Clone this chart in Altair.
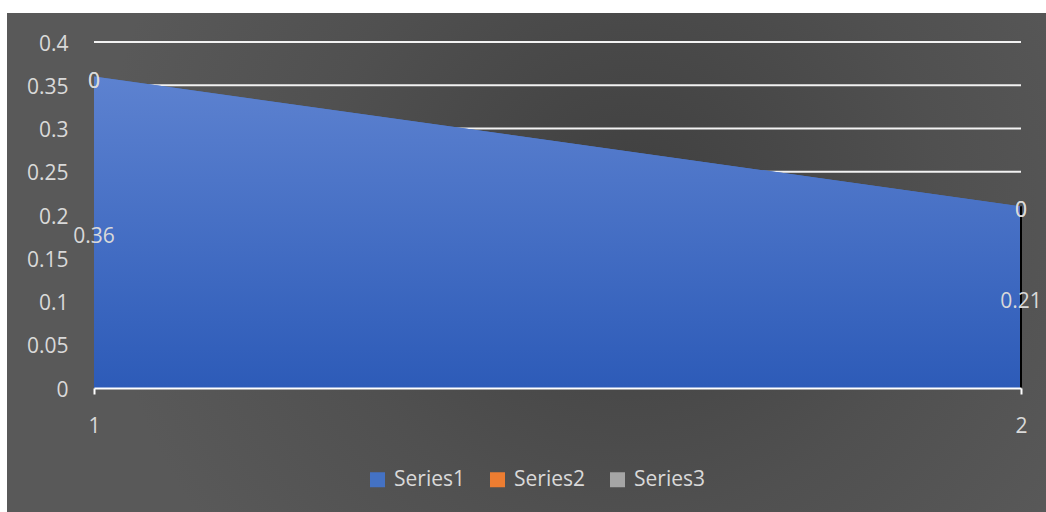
import altair as alt
import pandas as pd

# ---- data ----
x_values = [1, 2]
series_names = ["Series1", "Series2", "Series3"]
series1 = [0.36, 0.21]
series2 = [0, 0]
series3 = [0, 0]
series_colors = ["#4472c4", "#ed7d31", "#a5a5a5"]
y_ticks = [0, 0.05, 0.1, 0.15, 0.2, 0.25, 0.3, 0.35, 0.4]
x_ticks = [1, 2]

rows = []
for name, vals in zip(series_names, [series1, series2, series3]):
    for xv, v in zip(x_values, vals):
        rows.append({"x": xv, "series": name, "value": v, "order": series_names.index(name)})
df = pd.DataFrame(rows)
grid_df = pd.DataFrame({"v": [t for t in y_ticks if t > 0]})

W, H = 927, 346
FONT = "Open Sans"
TXT = "#d9d9d9"

xscale = alt.Scale(domain=[1, 2], nice=False, zero=False)
yscale = alt.Scale(domain=[0, 0.4], nice=False)

# gray panel with radial shading
panel = alt.Chart(pd.DataFrame({"a": [0]})).mark_rect(
    fill=alt.RadialGradient(
        gradient="radial",
        stops=[alt.GradientStop(color="#3f3f3f", offset=0),
               alt.GradientStop(color="#505050", offset=0.5),
               alt.GradientStop(color="#595959", offset=0.85),
               alt.GradientStop(color="#595959", offset=1)],
        x1=0.6, y1=0.45, r1=0, x2=0.6, y2=0.45, r2=0.6),
).encode(x=alt.value(-87), x2=alt.value(952), y=alt.value(-29), y2=alt.value(470))

grid = alt.Chart(grid_df).mark_rule(color="#f2f2f2", strokeWidth=2).encode(
    y=alt.Y("v:Q", scale=yscale, title=None),
    x=alt.value(0), x2=alt.value(W),
)

area = alt.Chart(df).mark_area().encode(
    x=alt.X("x:Q", scale=xscale, title=None,
            axis=alt.Axis(values=x_ticks, format="d", zindex=1, domainColor="#ffffff",
                          domainWidth=2, tickColor="#ffffff", tickWidth=2, tickSize=6,
                          labelPadding=21, labelFlush=False, grid=False)),
    y=alt.Y("value:Q", stack="zero", scale=yscale, title=None,
            axis=alt.Axis(values=y_ticks, format=".2~f", zindex=1, domain=False,
                          ticks=False, labelPadding=26, labelOffset=2, grid=False)),
    color=alt.Color("series:N", scale=alt.Scale(domain=series_names, range=series_colors),
                    legend=alt.Legend(title=None, orient="none", legendX=273, legendY=427,
                                      direction="horizontal", symbolType="square",
                                      symbolSize=225, symbolStrokeWidth=0,
                                      labelFontSize=21, labelColor=TXT, labelFont=FONT,
                                      labelOffset=6, columnPadding=22, zindex=1)),
    order=alt.Order("order:Q"),
)

grad_area = alt.Chart(df).transform_filter("datum.series == 'Series1'").mark_area(
    fill=alt.LinearGradient(
        gradient="linear",
        stops=[alt.GradientStop(color="#5d82d0", offset=0),
               alt.GradientStop(color="#2d5bb8", offset=1)],
        x1=0, x2=0, y1=0, y2=1),
).encode(
    x=alt.X("x:Q", scale=xscale, title=None),
    y=alt.Y("value:Q", scale=yscale, title=None),
)

edge = alt.Chart(df).transform_filter("datum.series == 'Series1' && datum.x == 2").mark_rule(
    color="#000000", strokeWidth=2
).encode(
    x=alt.X("x:Q", scale=xscale, title=None),
    y=alt.Y("value:Q", scale=yscale, title=None),
    y2=alt.datum(0),
)

labels = alt.Chart(df).transform_stack(
    stack="value", groupby=["x"], as_=["v0", "v1"], sort=[alt.SortField("order", order="ascending")]
).transform_calculate(
    mid="(datum.v0 + datum.v1) / 2"
).mark_text(font=FONT, fontSize=21, color=TXT, align="center", baseline="middle", dy=5).encode(
    x=alt.X("x:Q", scale=xscale, title=None),
    y=alt.Y("mid:Q", scale=yscale, title=None),
    text=alt.Text("value:Q", format="~g"),
)

chart = alt.layer(panel, grid, area, grad_area, edge, labels).properties(
    width=W, height=H,
    autosize=alt.AutoSizeParams(type="none"),
    padding={"left": 94, "top": 42, "right": 25, "bottom": 124},
    background="#ffffff",
).configure_view(stroke=None).configure_axis(
    labelFont=FONT, labelFontSize=21, labelColor=TXT,
)

chart.save("out.html", embed_options={"renderer": "svg", "actions": False})
